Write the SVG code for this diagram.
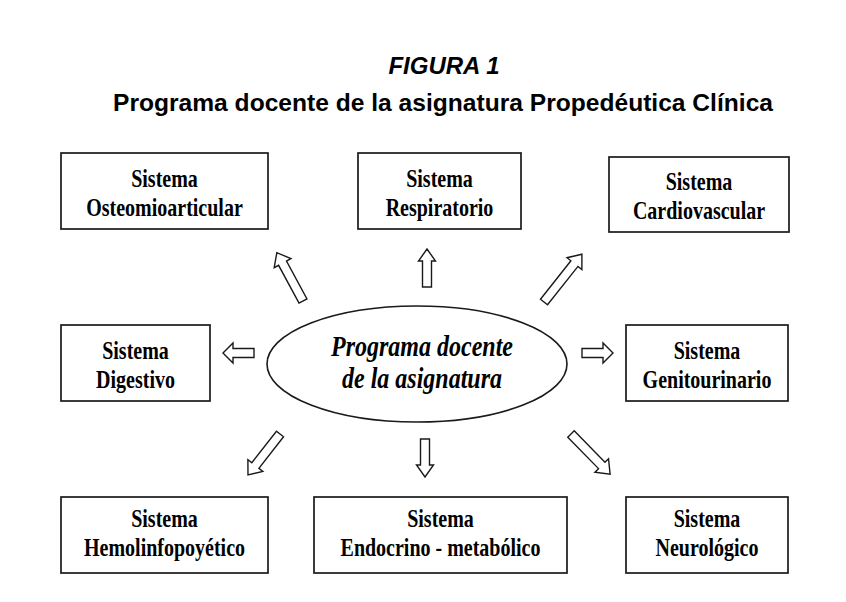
<svg xmlns="http://www.w3.org/2000/svg" width="846" height="602" viewBox="0 0 846 602">
<style>
.box{fill:#fff;stroke:#1a1a1a;stroke-width:1.7}
.t{font-family:"Liberation Serif","Times New Roman",serif;font-weight:bold;font-size:25px;text-anchor:middle;fill:#000}
.c{font-family:"Liberation Serif","Times New Roman",serif;font-weight:bold;font-style:italic;font-size:30px;text-anchor:middle;fill:#000}
.arr{fill:#fff;stroke:#1a1a1a;stroke-width:1.4;stroke-linejoin:miter}
.h{font-family:"Liberation Sans",Arial,sans-serif;font-weight:bold;font-size:24px;text-anchor:middle;fill:#000}
</style>
<text class="h" x="444" y="74" font-style="italic">FIGURA 1</text>
<text class="h" x="443" y="111" font-size="24.5" textLength="660" lengthAdjust="spacingAndGlyphs">Programa docente de la asignatura Propedéutica Clínica</text>

<g id="center">
<ellipse cx="417" cy="364" rx="150" ry="58" fill="#fff" stroke="#1a1a1a" stroke-width="1.6"/>
<text class="c" transform="translate(422 356) scale(0.8 1)">Programa docente</text>
<text class="c" transform="translate(422 388) scale(0.8 1)">de la asignatura</text>
</g>

<g id="osteo">
<rect class="box" x="61" y="153" width="207" height="76"/>
<text class="t" transform="translate(164.5 187) scale(0.8 1)">Sistema</text>
<text class="t" transform="translate(164.5 216) scale(0.8 1)">Osteomioarticular</text>
</g>
<g id="respiratorio">
<rect class="box" x="358" y="153" width="163" height="76"/>
<text class="t" transform="translate(439.5 187) scale(0.8 1)">Sistema</text>
<text class="t" transform="translate(439.5 216) scale(0.8 1)">Respiratorio</text>
</g>
<g id="cardio">
<rect class="box" x="609" y="157" width="180" height="75"/>
<text class="t" transform="translate(699 190) scale(0.8 1)">Sistema</text>
<text class="t" transform="translate(699 219) scale(0.8 1)">Cardiovascular</text>
</g>
<g id="digestivo">
<rect class="box" x="61" y="325" width="149" height="76"/>
<text class="t" transform="translate(135.5 359) scale(0.8 1)">Sistema</text>
<text class="t" transform="translate(135.5 388) scale(0.8 1)">Digestivo</text>
</g>
<g id="genito">
<rect class="box" x="626" y="325" width="162" height="76"/>
<text class="t" transform="translate(707 359) scale(0.8 1)">Sistema</text>
<text class="t" transform="translate(707 388) scale(0.8 1)">Genitourinario</text>
</g>
<g id="hemo">
<rect class="box" x="61" y="497" width="207" height="76"/>
<text class="t" transform="translate(164.5 527) scale(0.8 1)">Sistema</text>
<text class="t" transform="translate(164.5 556) scale(0.8 1)">Hemolinfopoyético</text>
</g>
<g id="endocrino">
<rect class="box" x="314" y="497" width="253" height="76"/>
<text class="t" transform="translate(440.5 527) scale(0.8 1)">Sistema</text>
<text class="t" transform="translate(440.5 556) scale(0.8 1)">Endocrino - metabólico</text>
</g>
<g id="neuro">
<rect class="box" x="626" y="497" width="162" height="76"/>
<text class="t" transform="translate(707 527) scale(0.8 1)">Sistema</text>
<text class="t" transform="translate(707 556) scale(0.8 1)">Neurológico</text>
</g>

<g id="connectors">
<polygon class="arr" transform="translate(303 301) rotate(-118.4)" points="0,-4.5 43,-4.5 43,-9.5 55,0 43,9.5 43,4.5 0,4.5"/>
<polygon class="arr" transform="translate(427 287) rotate(-90)" points="0,-4.5 26,-4.5 26,-8.5 38,0 26,8.5 26,4.5 0,4.5"/>
<polygon class="arr" transform="translate(544 302) rotate(-51.6)" points="0,-4.5 49,-4.5 49,-9.5 61,0 49,9.5 49,4.5 0,4.5"/>
<polygon class="arr" transform="translate(254 353) rotate(180)" points="0,-4.5 21,-4.5 21,-10 31,0 21,10 21,4.5 0,4.5"/>
<polygon class="arr" transform="translate(582 353)" points="0,-4.5 21,-4.5 21,-10 31,0 21,10 21,4.5 0,4.5"/>
<polygon class="arr" transform="translate(280 434) rotate(128)" points="0,-4.5 40,-4.5 40,-9.5 52,0 40,9.5 40,4.5 0,4.5"/>
<polygon class="arr" transform="translate(425 439) rotate(90)" points="0,-4.5 26,-4.5 26,-8.5 38,0 26,8.5 26,4.5 0,4.5"/>
<polygon class="arr" transform="translate(571 434) rotate(45.7)" points="0,-4.5 44,-4.5 44,-9.5 56,0 44,9.5 44,4.5 0,4.5"/>
</g>
</svg>
